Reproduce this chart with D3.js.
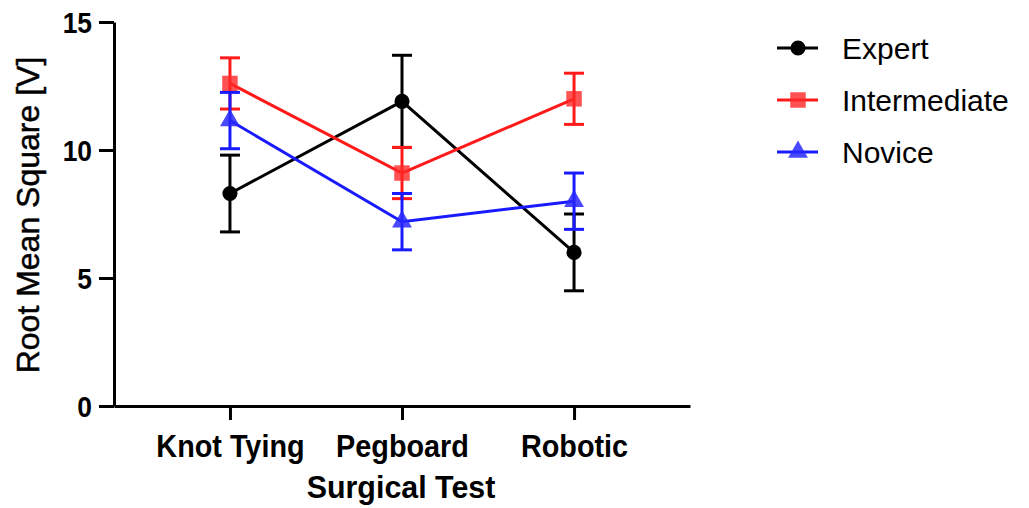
<!DOCTYPE html>
<html>
<head>
<meta charset="utf-8">
<script src="https://cdn.jsdelivr.net/npm/d3@7"></script>
<style>
  body { margin: 0; background: #fff; }
  text { font-family: "Liberation Sans", Arial, sans-serif; fill: #000; }
</style>
</head>
<body>
<div id="chart"></div>
<script>
// data
const categories = ["Knot Tying", "Pegboard", "Robotic"];
const seriesNames = ["Expert", "Intermediate", "Novice"];
const expertMean = [8.3, 11.9, 6.0];
const expertErr = [1.5, 1.8, 1.5];
const intermediateMean = [12.6, 9.1, 12.0];
const intermediateErr = [1.0, 1.0, 1.0];
const noviceMean = [11.15, 7.2, 8.0];
const noviceErr = [1.1, 1.1, 1.1];
const yTicks = [0, 5, 10, 15];

const width = 1029, height = 508;

const series = [
  { name: seriesNames[0], mean: expertMean, err: expertErr, color: "#000", fill: "#000", symbol: d3.symbolCircle, size: 180 },
  { name: seriesNames[1], mean: intermediateMean, err: intermediateErr, color: "#ff1a1a", fill: "rgba(255,40,40,0.8)", symbol: d3.symbolSquare, size: 240 },
  { name: seriesNames[2], mean: noviceMean, err: noviceErr, color: "#1a1aff", fill: "rgba(40,40,255,0.85)", symbol: d3.symbolTriangle, size: 170 }
];

const svg = d3.select("#chart").append("svg")
  .attr("width", width)
  .attr("height", height);

const x = d3.scalePoint()
  .domain(categories)
  .range([114, 690])
  .padding(0.674);

const y = d3.scaleLinear()
  .domain([0, 15])
  .range([406, 22]);

// axes
const yAxis = svg.append("g")
  .attr("transform", "translate(114,0)")
  .call(d3.axisLeft(y).tickValues(yTicks).tickSize(15).tickPadding(7).tickSizeOuter(0));
yAxis.select(".domain").attr("stroke-width", 3);
yAxis.selectAll(".tick line").attr("stroke-width", 3);
yAxis.selectAll(".tick text")
  .style("font-size", "30px").style("font-weight", "bold")
  .attr("x", -25)
  .attr("dy", "0.36em")
  .attr("transform", "scale(0.88,1)");

const xAxis = svg.append("g")
  .attr("transform", "translate(0,406)")
  .call(d3.axisBottom(x).tickSize(14).tickPadding(14).tickSizeOuter(0));
xAxis.select(".domain").attr("stroke-width", 3);
xAxis.selectAll(".tick line").attr("stroke-width", 3);
xAxis.selectAll(".tick text")
  .style("font-size", "32px").style("font-weight", "bold")
  .attr("transform", "scale(0.9,1)");

// axis titles
svg.append("text")
  .attr("transform", "translate(401,498) scale(0.95,1)")
  .attr("text-anchor", "middle")
  .style("font-size", "32px").style("font-weight", "bold")
  .text("Surgical Test");

svg.append("text")
  .attr("transform", "translate(39,215) rotate(-90)")
  .attr("text-anchor", "middle")
  .style("font-size", "32px")
  .style("stroke", "#000").style("stroke-width", 0.5)
  .text("Root Mean Square [V]");

// series
const line = d3.line()
  .x((d, i) => x(categories[i]))
  .y(d => y(d));

series.forEach(s => {
  const g = svg.append("g");
  g.append("path")
    .datum(s.mean)
    .attr("d", line)
    .attr("fill", "none")
    .attr("stroke", s.color)
    .attr("stroke-width", 3);

  const eb = g.selectAll(".eb").data(s.mean).enter().append("g");
  eb.append("line")
    .attr("x1", (d, i) => x(categories[i])).attr("x2", (d, i) => x(categories[i]))
    .attr("y1", (d, i) => y(d - s.err[i])).attr("y2", (d, i) => y(d + s.err[i]))
    .attr("stroke", s.color).attr("stroke-width", 3);
  [-1, 1].forEach(sign => {
    eb.append("line")
      .attr("x1", (d, i) => x(categories[i]) - 10).attr("x2", (d, i) => x(categories[i]) + 10)
      .attr("y1", (d, i) => y(d + sign * s.err[i])).attr("y2", (d, i) => y(d + sign * s.err[i]))
      .attr("stroke", s.color).attr("stroke-width", 3);
  });

  g.selectAll(".pt").data(s.mean).enter().append("path")
    .attr("transform", (d, i) => `translate(${x(categories[i])},${y(d)})`)
    .attr("d", d3.symbol().type(s.symbol).size(s.size))
    .attr("fill", s.fill);
});

// legend
const legend = svg.append("g");
series.forEach((s, i) => {
  const ly = 48 + i * 52;
  legend.append("line")
    .attr("x1", 777).attr("x2", 818).attr("y1", ly).attr("y2", ly)
    .attr("stroke", s.color).attr("stroke-width", 3);
  legend.append("path")
    .attr("transform", `translate(798,${ly})`)
    .attr("d", d3.symbol().type(s.symbol).size(s.size))
    .attr("fill", s.fill);
  legend.append("text")
    .attr("x", 842).attr("y", ly)
    .attr("dy", "0.36em")
    .style("font-size", "30px")
    .text(s.name);
});
</script>
</body>
</html>
